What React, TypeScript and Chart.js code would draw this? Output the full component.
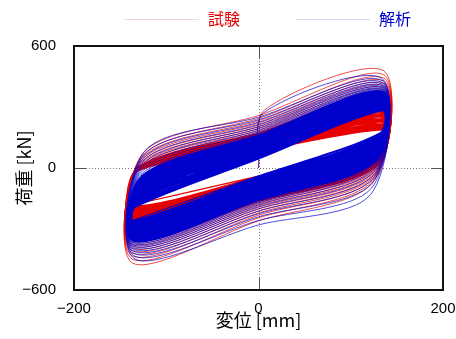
import React, { useEffect, useRef } from "react";
import { Chart, registerables } from "chart.js";

Chart.register(...registerables);

// ---- axes ----
const xTicks = [-200, 0, 200];
const yTicks = [-600, 0, 600];
const xTitle = "変位 [mm]";
const yTitle = "荷重 [kN]";
const seriesNames = ["試験", "解析"];
const seriesColors = ["#e60000", "#0000cd"];
const legendLineColors = ["#f8d4d4", "#d8d8f4"];

// ---- 試験 (test): per-cycle values ----
const testDisp = [136, -137]; // reversal displacement right / left (mm)
const testPeakPos = [478, 458, 442, 428, 416, 405, 395, 385, 375, 366, 356, 347, 338, 330, 322, 314, 307, 300, 293, 287, 281, 276, 271, 266, 261, 256, 251, 246, 241, 236, 231, 226, 221, 216, 211, 206, 201, 197, 192, 187];
const testZeroPos = [275, 258, 244, 232, 221, 211, 202, 193, 185, 177, 172, 168, 165, 161, 158, 155, 152, 149, 146, 143, 140, 137, 134, 131, 128, 125, 122, 119, 116, 113, 110, 107, 104, 101, 98, 95, 92, 89, 86, 84];
const testPeakNeg = [-467, -448, -432, -418, -406, -395, -385, -375, -366, -357, -349, -341, -333, -326, -319, -312, -305, -299, -293, -287, -281, -275, -269, -263, -257, -251, -245, -240, -235, -230, -225, -220, -215, -210, -205, -200, -195, -190, -186, -182];
const testZeroNeg = [-260, -245, -232, -221, -211, -202, -193, -185, -177, -170, -164, -158, -152, -147, -142, -137, -132, -127, -123, -119, -115, -111, -107, -103, -99, -95, -91, -87, -83, -79, -75, -71, -67, -63, -59, -55, -51, -47, -43, -40];

// ---- 解析 (analysis) ----
const anaDisp = [134, -135];
const anaPeakPos = [440, 430, 421, 413, 406, 400, 395, 390, 386, 382, 378, 375, 372, 369, 366, 363, 360, 357, 354, 351, 348, 345, 342, 339, 336, 333, 330, 327, 324, 321, 318, 315, 312, 309, 306, 303, 300, 297, 294, 291, 289, 287, 285, 283, 282];
const anaZeroPos = [265, 250, 237, 225, 214, 204, 195, 186, 178, 170, 163, 159, 155, 152, 148, 145, 141, 138, 134, 131, 127, 124, 120, 117, 113, 110, 106, 103, 99, 96, 92, 89, 85, 82, 78, 75, 71, 68, 64, 61, 57, 54, 50, 47, 44];
const anaPeakNeg = [-445, -432, -420, -410, -401, -393, -386, -380, -374, -368, -362, -359, -356, -353, -350, -347, -344, -341, -338, -335, -332, -329, -326, -323, -320, -317, -314, -311, -308, -305, -302, -299, -296, -293, -290, -287, -284, -281, -278, -275, -272, -268, -264, -260, -256];
const anaZeroNeg = [-280, -258, -240, -225, -212, -200, -190, -181, -173, -166, -160, -156, -153, -149, -146, -142, -139, -135, -132, -128, -125, -121, -118, -114, -111, -107, -104, -100, -97, -93, -90, -86, -83, -79, -76, -72, -69, -65, -62, -58, -55, -51, -48, -43, -39];

const elasticStiffness = 45; // kN/mm, steep reversal slope
const earlyCycles = 10; // first (outer, sparse) cycles drawn thinner

type P = { x: number; y: number; c: number };

function buildLoops(disp: number[], pkP: number[], q0P: number[], pkN: number[], q0N: number[]): P[] {
  const [xR, xL] = disp;
  const K1 = elasticStiffness;
  const pts: P[] = [{ x: 0, y: 0, c: 0 }];
  let cx = 0;
  let cy = 0;
  for (let i = 0; i < pkP.length; i++) {
    // loading branch through (0, q0P) and (xR, pkP)
    const sU = (pkP[i] - q0P[i]) / xR;
    const kx = (q0P[i] - cy + K1 * cx) / (K1 - sU);
    pts.push({ x: kx, y: q0P[i] + sU * kx, c: i });
    if (kx < -5) pts.push({ x: 0, y: q0P[i], c: i });
    pts.push({ x: xR, y: pkP[i], c: i });
    // unloading branch through (0, q0N) and (xL, pkN)
    const sL = (q0N[i] - pkN[i]) / -xL;
    const kx2 = (q0N[i] - pkP[i] + K1 * xR) / (K1 - sL);
    pts.push({ x: kx2, y: q0N[i] + sL * kx2, c: i });
    pts.push({ x: 0, y: q0N[i], c: i });
    pts.push({ x: xL, y: pkN[i], c: i });
    cx = xL;
    cy = pkN[i];
  }
  return pts;
}

const frameAndZero = {
  id: "frameAndZero",
  beforeDatasetsDraw(chart: any) {
    const { ctx, chartArea: a, scales } = chart;
    const x0 = Math.round(scales.x.getPixelForValue(0)) + 0.5;
    const y0 = Math.round(scales.y.getPixelForValue(0)) + 0.5;
    ctx.save();
    ctx.strokeStyle = "#777";
    ctx.lineWidth = 1;
    ctx.setLineDash([1, 2]);
    ctx.beginPath();
    ctx.moveTo(x0, a.top);
    ctx.lineTo(x0, a.bottom);
    ctx.moveTo(a.left, y0);
    ctx.lineTo(a.right, y0);
    ctx.stroke();
    ctx.restore();
  },
  afterDatasetsDraw(chart: any) {
    const { ctx, chartArea: a, scales } = chart;
    const x0 = Math.round(scales.x.getPixelForValue(0)) + 0.5;
    const y0 = Math.round(scales.y.getPixelForValue(0)) + 0.5;
    const t = 12;
    ctx.save();
    ctx.strokeStyle = "#555";
    ctx.lineWidth = 1;
    ctx.beginPath();
    ctx.moveTo(x0, a.top);
    ctx.lineTo(x0, a.top + t);
    ctx.moveTo(x0, a.bottom);
    ctx.lineTo(x0, a.bottom - t);
    ctx.moveTo(a.left, y0);
    ctx.lineTo(a.left + t, y0);
    ctx.moveTo(a.right, y0);
    ctx.lineTo(a.right - t, y0);
    ctx.stroke();
    ctx.strokeStyle = "#111";
    ctx.lineWidth = 2;
    ctx.strokeRect(a.left, a.top, a.right - a.left, a.bottom - a.top);
    ctx.restore();
  },
};

const topLegend = {
  id: "topLegend",
  afterDraw(chart: any) {
    const { ctx } = chart;
    const items = [
      { x1: 125, x2: 199, tx: 208 },
      { x1: 296, x2: 370, tx: 379 },
    ];
    ctx.save();
    ctx.font = '16px "Noto Sans CJK JP"';
    ctx.textBaseline = "middle";
    ctx.textAlign = "left";
    items.forEach((it, i) => {
      ctx.strokeStyle = legendLineColors[i];
      ctx.lineWidth = 1;
      ctx.beginPath();
      ctx.moveTo(it.x1, 19.5);
      ctx.lineTo(it.x2, 19.5);
      ctx.stroke();
      ctx.fillStyle = seriesColors[i];
      ctx.fillText(seriesNames[i], it.tx, 19);
    });
    ctx.restore();
  },
};

const segWidth = (ctx: any) => {
  const d = ctx.chart.data.datasets[ctx.datasetIndex].data[ctx.p0DataIndex];
  return d && d.c < earlyCycles ? 0.7 : 1.2;
};

export default function App() {
  const ref = useRef<HTMLCanvasElement | null>(null);
  useEffect(() => {
    if (!ref.current) return;
    const testPts = buildLoops(testDisp, testPeakPos, testZeroPos, testPeakNeg, testZeroNeg);
    const anaPts = buildLoops(anaDisp, anaPeakPos, anaZeroPos, anaPeakNeg, anaZeroNeg);
    const tickFont = { family: '"Liberation Sans", Arial, sans-serif', size: 15 };
    const titleFont = { family: '"Noto Sans CJK JP", sans-serif', size: 18 };
    const chart = new Chart(ref.current, {
      type: "line",
      data: {
        datasets: [
          {
            label: seriesNames[0],
            data: testPts,
            borderColor: seriesColors[0],
            borderWidth: 1.2,
            segment: { borderWidth: segWidth },
            pointRadius: 0,
            tension: 0.3,
            fill: false,
            order: 2,
          },
          {
            label: seriesNames[1],
            data: anaPts,
            borderColor: seriesColors[1],
            borderWidth: 1.2,
            segment: { borderWidth: segWidth },
            pointRadius: 0,
            tension: 0.3,
            fill: false,
            order: 1,
          },
        ],
      },
      options: {
        animation: false,
        responsive: false,
        devicePixelRatio: 1,
        layout: { padding: { top: 46, right: 13, left: 0, bottom: 0 } },
        plugins: { legend: { display: false }, tooltip: { enabled: false } },
        scales: {
          x: {
            type: "linear",
            min: xTicks[0],
            max: xTicks[xTicks.length - 1],
            afterBuildTicks: (s: any) => {
              s.ticks = xTicks.map((v) => ({ value: v }));
            },
            afterFit: (s: any) => {
              s.height = 49;
              s.paddingLeft = 0;
              s.paddingRight = 0;
            },
            grid: { display: false },
            border: { display: false },
            ticks: {
              font: tickFont,
              color: "#000",
              padding: 2,
              maxRotation: 0,
              callback: (v: any) => String(v).replace("-", "\u2212"),
            },
            title: { display: true, text: xTitle, font: titleFont, color: "#000", padding: { top: 0, bottom: 8 } },
          },
          y: {
            type: "linear",
            min: yTicks[0],
            max: yTicks[yTicks.length - 1],
            afterBuildTicks: (s: any) => {
              s.ticks = yTicks.map((v) => ({ value: v }));
            },
            afterFit: (s: any) => {
              s.width = 74;
              s.paddingTop = 0;
              s.paddingBottom = 0;
            },
            grid: { display: false },
            border: { display: false },
            ticks: {
              font: tickFont,
              color: "#000",
              padding: 10,
              callback: (v: any) => String(v).replace("-", "\u2212"),
            },
            title: { display: true, text: yTitle, font: titleFont, color: "#000", padding: { top: 13, bottom: 0 } },
          },
        },
      },
      plugins: [frameAndZero, topLegend],
    });
    return () => chart.destroy();
  }, []);
  return (
    <div style={{ position: "absolute", left: 0, top: 0, width: 456, height: 339, background: "#fff" }}>
      <canvas ref={ref} width={456} height={339} style={{ display: "block" }} />
    </div>
  );
}
